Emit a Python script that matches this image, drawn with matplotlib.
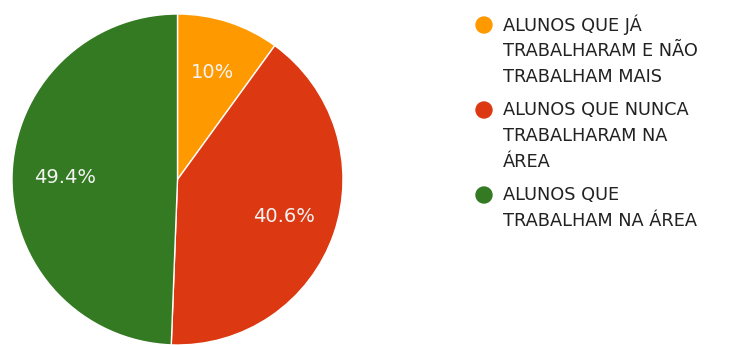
import matplotlib
matplotlib.use("Agg")
import matplotlib.pyplot as plt
from matplotlib.patches import Ellipse

labels = ["ALUNOS QUE JÁ\nTRABALHARAM E NÃO\nTRABALHAM MAIS",
          "ALUNOS QUE NUNCA\nTRABALHARAM NA\nÁREA",
          "ALUNOS QUE\nTRABALHAM NA ÁREA"]
values = [10.0, 40.6, 49.4]
colors = ["#FF9900", "#DC3912", "#347A22"]

W, H = 731, 345
fig = plt.figure(figsize=(W / 100, H / 100), dpi=100)
fig.patch.set_facecolor("white")

# pie area
ax = fig.add_axes([12 / W, 0, 331 / W, 331 / H])
wedges, texts, autotexts = ax.pie(
    values, colors=colors, startangle=90, counterclock=False,
    autopct=lambda p: ("%.1f%%" % p).replace(".0%", "%"),
    pctdistance=0.68, radius=1.0,
    wedgeprops=dict(edgecolor="white", linewidth=1),
    textprops=dict(color="#F4F4F4", fontsize=14, family="DejaVu Sans"))
ax.set_xlim(-1, 1)
ax.set_ylim(-1, 1)
ax.set_aspect("auto")
ax.axis("off")

# legend, drawn by hand
y = 25
for lab, col in zip(labels, colors):
    fig.add_artist(Ellipse((484 / W, 1 - y / H), 16 / W, 16 / H,
                           transform=fig.transFigure, color=col))
    for line in lab.split("\n"):
        fig.text(503 / W, 1 - y / H, line, fontsize=12.8, color="#222222",
                 family="DejaVu Sans", va="center", ha="left")
        y += 26
    y += 7

fig.savefig("out.png", dpi=100)
